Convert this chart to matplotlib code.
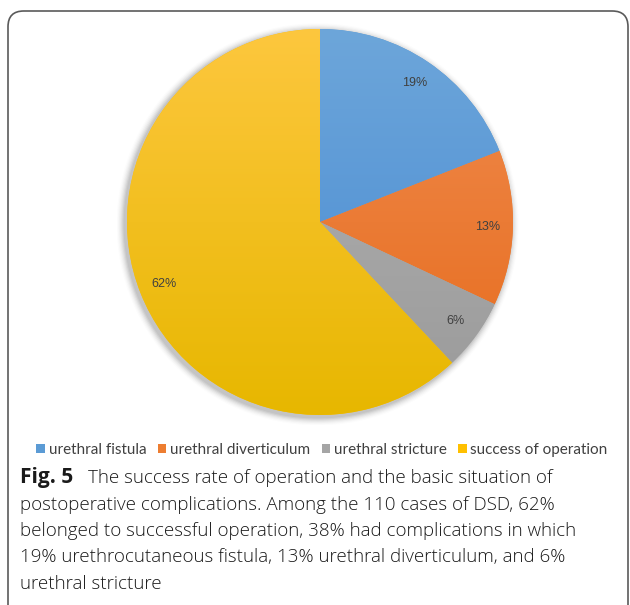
import numpy as np
import matplotlib
matplotlib.use("Agg")
import matplotlib.pyplot as plt
from matplotlib.patches import FancyBboxPatch, Patch
from matplotlib.colors import LinearSegmentedColormap

categories = ["urethral fistula", "urethral diverticulum", "urethral stricture", "success of operation"]
values = [19, 13, 6, 62]
top_colors = ["#6da6da", "#f08c50", "#b3b3b3", "#fdc73e"]
bottom_colors = ["#4689d2", "#e66a1a", "#9a9a9a", "#e7b700"]
legend_colors = ["#5b9bd5", "#ed7d31", "#a5a5a5", "#ffc000"]

caption_bold = "Fig. 5"
caption_lines = [
    "The success rate of operation and the basic situation of",
    "postoperative complications. Among the 110 cases of DSD, 62%",
    "belonged to successful operation, 38% had complications in which",
    "19% urethrocutaneous fistula, 13% urethral diverticulum, and 6%",
    "urethral stricture",
]

W, H = 630, 605
fig = plt.figure(figsize=(W / 100, H / 100), dpi=100)
fig.patch.set_facecolor("white")

# border box
box = FancyBboxPatch((8 / W, -20 / H), (620) / W, (H - 11 + 20) / H,
                     boxstyle="round,pad=0,rounding_size=0.025",
                     transform=fig.transFigure, facecolor="none",
                     edgecolor="#5a5a5a", linewidth=1.2, mutation_aspect=W / H)
fig.patches.append(box)

cx, cy, r = 320, 222, 193
ax = fig.add_axes([(cx - r * 1.05) / W, (H - cy - r * 1.05) / H, 2.1 * r / W, 2.1 * r / H])
ax.set_aspect("equal")
ax.axis("off")

# soft shadow
for i, a in enumerate(np.linspace(0.06, 0.01, 7)):
    c = plt.Circle((-0.012, -0.012), 1.0 + 0.006 * (i + 1), color="black", alpha=a, zorder=0, lw=0)
    ax.add_patch(c)

wedges, texts, autotexts = ax.pie(values, startangle=90, counterclock=False,
                                  autopct="%d%%", pctdistance=0.87, radius=1,
                                  colors=legend_colors,
                                  textprops=dict(color="#404040", fontsize=9, family="Liberation Sans"))
grad = np.linspace(0, 1, 256).reshape(-1, 1)
for w, tc, bc in zip(wedges, top_colors, bottom_colors):
    cmap = LinearSegmentedColormap.from_list("g", [tc, bc])
    im = ax.imshow(grad, cmap=cmap, extent=(-1, 1, -1, 1), origin="upper",
                   aspect="auto", zorder=w.get_zorder() + 0.1)
    im.set_clip_path(w)
for t in autotexts:
    t.set_zorder(5)
ax.set_xlim(-1.05, 1.05)
ax.set_ylim(-1.05, 1.05)

handles = [Patch(facecolor=c, edgecolor="none") for c in legend_colors]
fig.legend(handles, categories, loc="center", bbox_to_anchor=(322 / W, 1 - 450 / H),
           ncol=4, frameon=False, handlelength=0.55, handleheight=0.55,
           handletextpad=0.25, columnspacing=0.75,
           prop=dict(family="Lato", size=11), labelcolor="#404040")

fs = 13.5
y0 = 478
lh = 26.5
fig.text(20 / W, 1 - y0 / H, caption_bold, fontsize=15, fontweight="bold",
         family="Open Sans", color="#1a1a1a", va="center", ha="left")
fig.text(88 / W, 1 - y0 / H, caption_lines[0], fontsize=fs, family="Open Sans",
         fontweight="light", color="#1a1a1a", va="center", ha="left")
for i, line in enumerate(caption_lines[1:], start=1):
    fig.text(20 / W, 1 - (y0 + lh * i) / H, line, fontsize=fs, family="Open Sans",
             fontweight="light", color="#1a1a1a", va="center", ha="left")

fig.savefig("out.png", dpi=100)
